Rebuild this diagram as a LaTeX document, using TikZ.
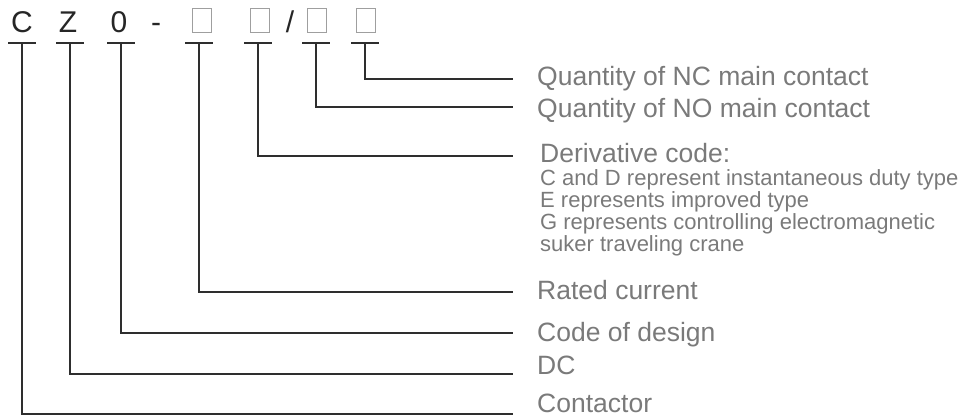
\documentclass[tikz,border=0pt]{standalone}
\usepackage{fontspec}
\setmainfont{Liberation Sans}
\usetikzlibrary{positioning}
\definecolor{labelgray}{HTML}{7A7A7A}
\definecolor{linegray}{HTML}{2E2E2E}

\begin{document}
\begin{tikzpicture}[x=1pt,y=-1pt,
      code/.style={font=\fontsize{30}{32}\selectfont,text=black!85,inner sep=0pt,anchor=base},
      slot/.style={draw=gray!75,line width=0.9pt,minimum width=19pt,minimum height=24pt,inner sep=0pt},
      bar/.style={draw=linegray,line width=2.2pt},
      lead/.style={draw=linegray,line width=1.4pt},
      lbl/.style={font=\fontsize{26.5}{28}\selectfont,text=labelgray,anchor=base west,inner sep=0pt},
      sub/.style={font=\fontsize{22}{22}\selectfont,text=labelgray,anchor=base west,inner sep=0pt}]
  \useasboundingbox (0,0) rectangle (960,418);
      % type code
      \node[code] (c) at (22,32) {C};
      \node[code] (z) at (68,32) {Z};
      \node[code] (zero) at (119,32) {0};
      \node[code] (dash) at (156,32) {-};
      \node[slot] (s1) at (202,20) {};
      \node[slot] (s2) at (260,20) {};
      \node[code] (slash) at (290,32) {/};
      \node[slot] (s3) at (317,20) {};
      \node[slot] (s4) at (366,20) {};
      % tick under each place
      \coordinate (tc) at (22,43);
      \coordinate (tz) at (70,43);
      \coordinate (tzero) at (121,43);
      \coordinate (ts1) at (199,43);
      \coordinate (ts2) at (258,43);
      \coordinate (ts3) at (316,43);
      \coordinate (ts4) at (365,43);
      \foreach \t in {tc,tz,tzero,ts1,ts2,ts3,ts4}
        \draw[bar] ([xshift=-14pt]\t) -- ([xshift=14pt]\t);
      % labels
      \node[lbl] (nc) at (537,85) {Quantity of NC main contact};
      \node[lbl] (no) at (537,117) {Quantity of NO main contact};
      \node[lbl] (deriv) at (540,162) {Derivative code:};
      \node[sub] (cd) at (540,185) {C and D represent instantaneous duty type};
      \node[sub] (e) at (540,207) {E represents improved type};
      \node[sub] (g) at (540,229) {G represents controlling electromagnetic};
      \node[sub] (suker) at (540,251) {suker traveling crane};
      \node[lbl] (rated) at (537,299) {Rated current};
      \node[lbl] (design) at (537,341) {Code of design};
      \node[lbl] (dc) at (537,374) {DC};
      \node[lbl] (cont) at (537,412) {Contactor};
      % leader ends
      \coordinate (enc) at (513,79);
      \coordinate (eno) at (513,107);
      \coordinate (ederiv) at (513,156);
      \coordinate (erated) at (513,292);
      \coordinate (edesign) at (513,333);
      \coordinate (edc) at (513,374);
      \coordinate (econt) at (513,414);
      \path[lead]
        (ts4) |- (enc)
        (ts3) |- (eno)
        (ts2) |- (ederiv)
        (ts1) |- (erated)
        (tzero) |- (edesign)
        (tz) |- (edc)
        (tc) |- (econt);
\end{tikzpicture}
\end{document}
